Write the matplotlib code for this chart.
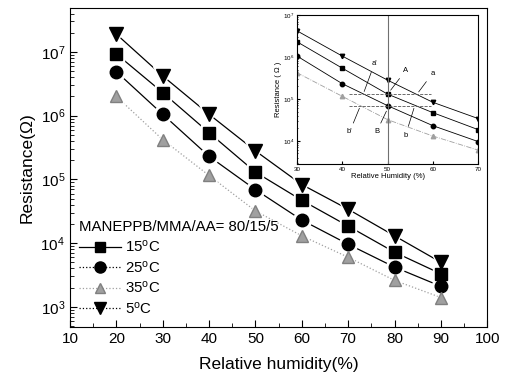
import matplotlib
matplotlib.use('Agg')
import matplotlib.pyplot as plt
from matplotlib.lines import Line2D
import numpy as np

plt.rcParams['font.family'] = ['Liberation Sans', 'DejaVu Sans']
plt.rcParams['mathtext.default'] = 'regular'

# data
humidity = [20, 30, 40, 50, 60, 70, 80, 90]
res_15 = [9.3e6, 2.3e6, 5.4e5, 1.3e5, 4.7e4, 1.85e4, 7.2e3, 3.3e3]
res_25 = [4.9e6, 1.05e6, 2.3e5, 6.9e4, 2.3e4, 9.6e3, 4.2e3, 2.1e3]
res_35 = [2.0e6, 4.2e5, 1.15e5, 3.2e4, 1.3e4, 6.0e3, 2.6e3, 1.4e3]
res_5 = [1.9e7, 4.2e6, 1.05e6, 2.8e5, 8.3e4, 3.4e4, 1.3e4, 5.0e3]

labels = ['15$^{o}$C', '25$^{o}$C', '35$^{o}$C', '5$^{o}$C']
series = [res_15, res_25, res_35, res_5]
markers = ['s', 'o', '^', 'v']
msizes = [8, 9, 8, 10]
colors = ['black', 'black', '#a0a0a0', 'black']
lstyles = ['-', '-', ':', '-']
leg_styles = ['-', ':', ':', ':']

fig = plt.figure(figsize=(5.07, 3.77), dpi=100)
ax = fig.add_axes([0.138, 0.133, 0.823, 0.846])

for y, m, ms, c, ls in zip(series, markers, msizes, colors, lstyles):
    ax.plot(humidity, y, ls=ls, color=c, lw=0.9, zorder=2)
    ax.plot(humidity, y, ls='none', marker=m, ms=ms + 4, color='white', zorder=3)
    ax.plot(humidity, y, ls='none', marker=m, ms=ms, color=c,
            mec='#808080' if c != 'black' else 'black', zorder=4)

ax.set_yscale('log')
ax.set_xlim(10, 100)
ax.set_ylim(485, 4.9e7)
ax.set_xticks(range(10, 101, 10))
ax.set_xticks(range(15, 100, 10), minor=True)
ax.tick_params(which='both', direction='in', top=False, right=False, labelsize=11)
ax.tick_params(which='major', length=5)
ax.tick_params(which='minor', length=3)
ax.set_xlabel('Relative humidity(%)', fontsize=12.5, labelpad=8)
ax.set_ylabel('Resistance(\u03a9)', fontsize=12.5, labelpad=4)

handles = [Line2D([], [], color=c, ls=ls, lw=0.9, marker=m, ms=ms - 1,
                  mec='#808080' if c != 'black' else 'black')
           for m, ms, c, ls in zip(markers, msizes, colors, leg_styles)]
leg = ax.legend(handles, labels, title='MANEPPB/MMA/AA= 80/15/5',
                loc='lower left', bbox_to_anchor=(0.0, 0.005), frameon=False,
                fontsize=10.8, title_fontsize=10.8, alignment='left',
                handlelength=2.8, handletextpad=0.25, labelspacing=0.3,
                borderaxespad=0.2)

# inset
ins = fig.add_axes([0.586, 0.565, 0.357, 0.395])
for y, m, c in zip(series, markers, colors):
    ins.plot(humidity, y, ls='-.' if c != 'black' else '-', color=c,
             lw=0.6, marker=m, ms=3.2, mec=c)
ins.set_yscale('log')
ins.set_xlim(30, 70)
ins.set_ylim(2.8e3, 1e7)
ins.set_xticks([30, 40, 50, 60, 70])
ins.tick_params(which='both', direction='in', labelsize=4.5, length=2, pad=2)
ins.tick_params(which='minor', length=1)
ins.set_xlabel('Relative Humidity (%)', fontsize=5.5, labelpad=1)
ins.set_ylabel('Resistance ( \u03a9 )', fontsize=5.5, labelpad=1)
ins.axvline(50, color='#707070', lw=0.8)
ins.hlines([res_15[3], res_25[3]], 41.5, 59.5, colors='#555555', linestyles='--', lw=0.6)

lp = dict(arrowstyle='-', lw=0.5, color='black')
ins.annotate("a'", xy=(44.6, res_15[3]), xytext=(46.5, 6.5e5), fontsize=5.5, arrowprops=lp)
ins.annotate('A', xy=(50.3, res_15[3] * 1.1), xytext=(53.5, 4.5e5), fontsize=5.5, arrowprops=lp)
ins.annotate('a', xy=(56.5, res_15[3]), xytext=(59.5, 3.8e5), fontsize=5.5, arrowprops=lp)
ins.annotate("b'", xy=(44.0, res_25[3]), xytext=(41.0, 1.5e4), fontsize=5.5, arrowprops=lp)
ins.annotate('B', xy=(50.0, res_25[3] * 0.85), xytext=(47.0, 1.5e4), fontsize=5.5, arrowprops=lp)
ins.annotate('b', xy=(56.0, res_25[3]), xytext=(53.5, 1.25e4), fontsize=5.5, arrowprops=lp)

fig.savefig('out.png', dpi=100)
